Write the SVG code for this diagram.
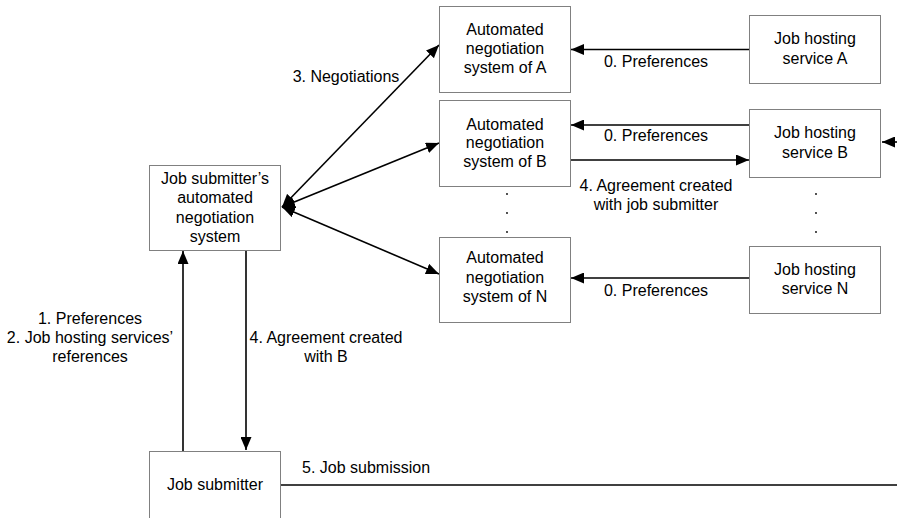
<svg xmlns="http://www.w3.org/2000/svg" width="897" height="518" viewBox="0 0 897 518">
  <style>
    .box { fill: #ffffff; stroke: #808080; stroke-width: 1; }
    .lbl { font-family: "Liberation Sans", Arial, sans-serif; font-size: 16px; fill: #000000; text-anchor: middle; }
    .lbl-start { font-family: "Liberation Sans", Arial, sans-serif; font-size: 16px; fill: #000000; text-anchor: start; }
    .wire { stroke: #000000; stroke-width: 1.6; fill: none; }
    .dot { fill: #000000; }
  </style>
  <defs>
    <marker id="head" viewBox="0 0 13 11" refX="13" refY="5.5" markerWidth="13" markerHeight="11" markerUnits="userSpaceOnUse" orient="auto-start-reverse">
      <path d="M0,0 L13,5.5 L0,11 Z" fill="#000000"/>
    </marker>
  </defs>

  <rect width="897" height="518" fill="#ffffff"/>

  <!-- connectors -->
  <g id="connectors">
    <line class="wire" x1="282" y1="207" x2="439" y2="45" marker-start="url(#head)" marker-end="url(#head)"/>
    <line class="wire" x1="282" y1="207" x2="439" y2="143" marker-start="url(#head)" marker-end="url(#head)"/>
    <line class="wire" x1="282" y1="207" x2="439" y2="274" marker-start="url(#head)" marker-end="url(#head)"/>
    <line class="wire" x1="749" y1="49.5" x2="571" y2="49.5" marker-end="url(#head)"/>
    <line class="wire" x1="749" y1="125" x2="571" y2="125" marker-end="url(#head)"/>
    <line class="wire" x1="570" y1="160" x2="749" y2="160" marker-end="url(#head)"/>
    <line class="wire" x1="897" y1="142" x2="882" y2="142" marker-end="url(#head)"/>
    <line class="wire" x1="749" y1="278" x2="571" y2="278" marker-end="url(#head)"/>
    <line class="wire" x1="183" y1="451" x2="183" y2="251" marker-end="url(#head)"/>
    <line class="wire" x1="246" y1="250" x2="246" y2="450" marker-end="url(#head)"/>
    <line class="wire" x1="280" y1="485" x2="897" y2="485"/>

    <text class="lbl" x="346" y="82">3. Negotiations</text>
    <text class="lbl" x="656" y="67">0. Preferences</text>
    <text class="lbl" x="656" y="141">0. Preferences</text>
    <text class="lbl" x="656" y="191">4. Agreement created</text>
    <text class="lbl" x="656" y="210">with job submitter</text>
    <text class="lbl" x="656" y="296">0. Preferences</text>
    <text class="lbl" x="90" y="324">1. Preferences</text>
    <text class="lbl" x="90" y="343">2. Job hosting services’</text>
    <text class="lbl" x="90" y="362">references</text>
    <text class="lbl" x="326" y="343">4. Agreement created</text>
    <text class="lbl" x="326" y="362">with B</text>
    <text class="lbl-start" x="302" y="473">5. Job submission</text>

    <!-- continuation dots -->
    <circle class="dot" cx="507" cy="194" r="0.9"/>
    <circle class="dot" cx="507" cy="213" r="0.9"/>
    <circle class="dot" cx="507" cy="232" r="0.9"/>
    <circle class="dot" cx="816" cy="194" r="0.9"/>
    <circle class="dot" cx="816" cy="213" r="0.9"/>
    <circle class="dot" cx="816" cy="232" r="0.9"/>
  </g>

  <g id="submitter-system">
    <rect class="box" x="149.5" y="165.5" width="131" height="85"/>
    <text class="lbl" x="215" y="184">Job submitter’s</text>
    <text class="lbl" x="215" y="203">automated</text>
    <text class="lbl" x="215" y="223">negotiation</text>
    <text class="lbl" x="215" y="242">system</text>
  </g>

  <g id="negotiation-a">
    <rect class="box" x="439.5" y="6.5" width="131" height="86"/>
    <text class="lbl" x="505" y="35">Automated</text>
    <text class="lbl" x="505" y="54">negotiation</text>
    <text class="lbl" x="505" y="73">system of A</text>
  </g>

  <g id="negotiation-b">
    <rect class="box" x="439.5" y="100.5" width="131" height="86"/>
    <text class="lbl" x="505" y="130">Automated</text>
    <text class="lbl" x="505" y="148">negotiation</text>
    <text class="lbl" x="505" y="167">system of B</text>
  </g>

  <g id="negotiation-n">
    <rect class="box" x="439.5" y="237.5" width="131" height="85"/>
    <text class="lbl" x="505" y="263">Automated</text>
    <text class="lbl" x="505" y="283">negotiation</text>
    <text class="lbl" x="505" y="302">system of N</text>
  </g>

  <g id="hosting-a">
    <rect class="box" x="749.5" y="15.5" width="131" height="68"/>
    <text class="lbl" x="815" y="44">Job hosting</text>
    <text class="lbl" x="815" y="64">service A</text>
  </g>

  <g id="hosting-b">
    <rect class="box" x="749.5" y="109.5" width="131" height="68"/>
    <text class="lbl" x="815" y="138">Job hosting</text>
    <text class="lbl" x="815" y="158">service B</text>
  </g>

  <g id="hosting-n">
    <rect class="box" x="749.5" y="246.5" width="131" height="67"/>
    <text class="lbl" x="815" y="275">Job hosting</text>
    <text class="lbl" x="815" y="294">service N</text>
  </g>

  <g id="job-submitter">
    <rect class="box" x="149.5" y="451.5" width="131" height="80"/>
    <text class="lbl" x="215" y="490">Job submitter</text>
  </g>
</svg>
